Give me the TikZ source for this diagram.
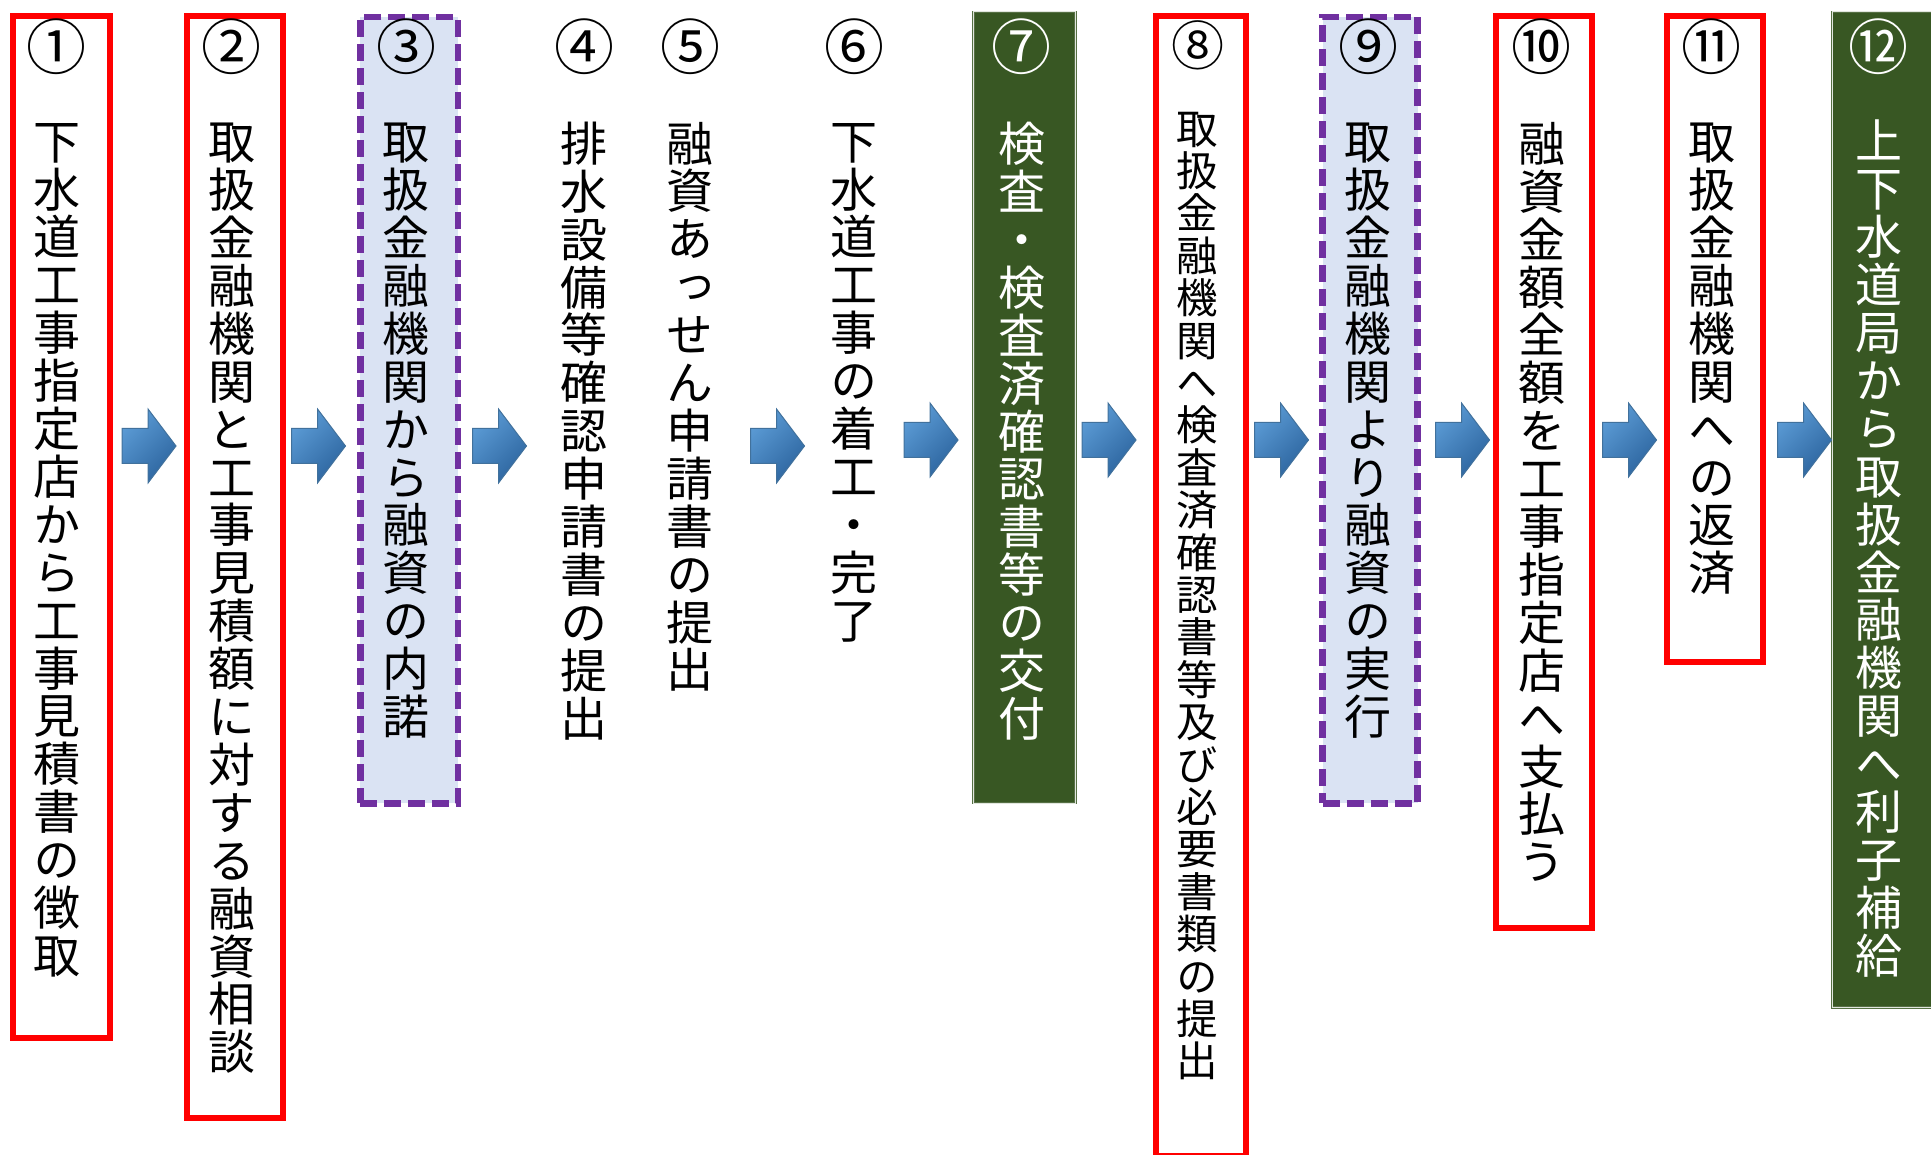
\documentclass[tikz,border=0pt]{standalone}
\usepackage{fontspec}
\newfontfamily\jpfont[RawFeature=+vert]{Noto Sans CJK JP}
\usepackage{xcolor}
\definecolor{stepred}{RGB}{255,0,0}
\definecolor{steppurple}{RGB}{112,48,160}
\definecolor{stepblue}{RGB}{218,227,243}
\definecolor{stepgreen}{RGB}{56,87,35}
\definecolor{arrowlight}{RGB}{91,155,213}
\definecolor{arrowdark}{RGB}{44,100,158}
\definecolor{arrowline}{RGB}{65,113,156}
\makeatletter
\newcommand\tate[1]{\@tfor\tch:=#1\do{\tch\par}}
\makeatother

\tikzset{
    stepbox/.style={anchor=north, inner sep=0pt, line width=6pt},
    redbox/.style={stepbox, draw=stepred},
    purplebox/.style={stepbox, line width=6.5pt, draw=steppurple, fill=stepblue, dash pattern=on 17pt off 7pt},
    greenbox/.style={anchor=north, inner sep=0pt, fill=stepgreen, draw=stepgreen!85!white,
        line width=0.8pt, double=white!85!stepgreen, double distance=0.8pt},
    steptext/.style={anchor=north, inner sep=0pt, text width=50pt, align=center,
        font=\jpfont\fontsize{47}{47.9}\selectfont},
    smalltext/.style={steptext, font=\jpfont\fontsize{41.5}{42.4}\selectfont},
    stepnum/.style={inner sep=0pt, font=\jpfont\fontsize{60}{60}\selectfont},
    smallnum/.style={stepnum, font=\jpfont\fontsize{53}{53}\selectfont},
    blockarrow/.pic={
        \draw[draw=arrowline, line width=1pt, top color=arrowlight, bottom color=arrowdark, shading angle=45]
            (-27,-17.5) -- (-1,-17.5) -- (-1,-37) -- (27,0) -- (-1,37) -- (-1,17.5) -- (-27,17.5) -- cycle;
    }
}

\begin{document}
\begin{tikzpicture}[x=1pt,y=1pt]
        \useasboundingbox (0,0) rectangle (1931,-1155);

        % boxes
        \node[redbox, minimum width=97, minimum height=1021] (s1) at (61,-13.5) {};
        \node[redbox, minimum width=95.5, minimum height=1101.5] (s2) at (235,-13.5) {};
        \node[purplebox, minimum width=97.5, minimum height=786] (s3) at (409,-14) {};
        \node[greenbox, minimum width=102, minimum height=791] (s7) at (1024.5,-11.5) {};
        \node[redbox, minimum width=90, minimum height=1139] (s8) at (1200.5,-13.5) {};
        \node[purplebox, minimum width=95, minimum height=786] (s9) at (1370,-14) {};
        \node[redbox, minimum width=95.5, minimum height=911] (s10) at (1544,-13.5) {};
        \node[redbox, minimum width=96, minimum height=645] (s11) at (1714.5,-13.5) {};
        \node[greenbox, minimum width=102, minimum height=995.5] (s12) at (1883,-11.5) {};

        % numbers
        \node[stepnum] (n1) at (57,-46.5) {①};
        \node[stepnum] (n2) at (231.5,-46.5) {②};
        \node[stepnum] (n3) at (406,-46.5) {③};
        \node[stepnum] (n4) at (584,-46.5) {④};
        \node[stepnum] (n5) at (690,-46.5) {⑤};
        \node[stepnum] (n6) at (854,-46.5) {⑥};
        \node[stepnum, text=white] (n7) at (1021,-46.5) {⑦};
        \node[smallnum] (n8) at (1197.5,-45) {⑧};
        \node[stepnum] (n9) at (1368,-46.5) {⑨};
        \node[stepnum] (n10) at (1541,-46.5) {⑩};
        \node[stepnum] (n11) at (1711,-46.5) {⑪};
        \node[stepnum, text=white] (n12) at (1878.5,-46.5) {⑫};

        % texts
        \node[steptext] (t1) at (57,-123) {\tate{下水道工事指定店から工事見積書の徴取}};
        \node[steptext] (t2) at (232,-123) {\tate{取扱金融機関と工事見積額に対する融資相談}};
        \node[steptext] (t3) at (406,-123) {\tate{取扱金融機関から融資の内諾}};
        \node[steptext] (t4) at (584,-121.7) {\tate{排水設備等確認申請書の提出}};
        \node[steptext] (t5) at (690,-121.7) {\tate{融資あっせん申請書の提出}};
        \node[steptext] (t6) at (854,-123) {\tate{下水道工事の着工・完了}};
        \node[steptext, text=white] (t7) at (1021.5,-122) {\tate{検査・検査済確認書等の交付}};
        \node[smalltext] (t8) at (1197.5,-111.7) {\tate{取扱金融機関へ検査済確認書等及び必要書類の提出}};
        \node[steptext] (t9) at (1368,-123) {\tate{取扱金融機関より融資の実行}};
        \node[steptext] (t10) at (1541.5,-122) {\tate{融資金額全額を工事指定店へ支払う}};
        \node[steptext] (t11) at (1711.5,-123) {\tate{取扱金融機関への返済}};
        \node[steptext, text=white] (t12) at (1878.5,-120) {\tate{上下水道局から取扱金融機関へ利子補給}};

        % arrows
        \pic at (149,-446) {blockarrow};
        \pic at (318.5,-446) {blockarrow};
        \pic at (499.5,-446) {blockarrow};
        \pic at (777.5,-446) {blockarrow};
        \pic at (931,-440) {blockarrow};
        \pic at (1109,-440) {blockarrow};
        \pic at (1281.5,-440) {blockarrow};
        \pic at (1462.5,-440) {blockarrow};
        \pic at (1629.5,-440) {blockarrow};
        \pic at (1804.5,-440) {blockarrow};
    \end{tikzpicture}
\end{document}
